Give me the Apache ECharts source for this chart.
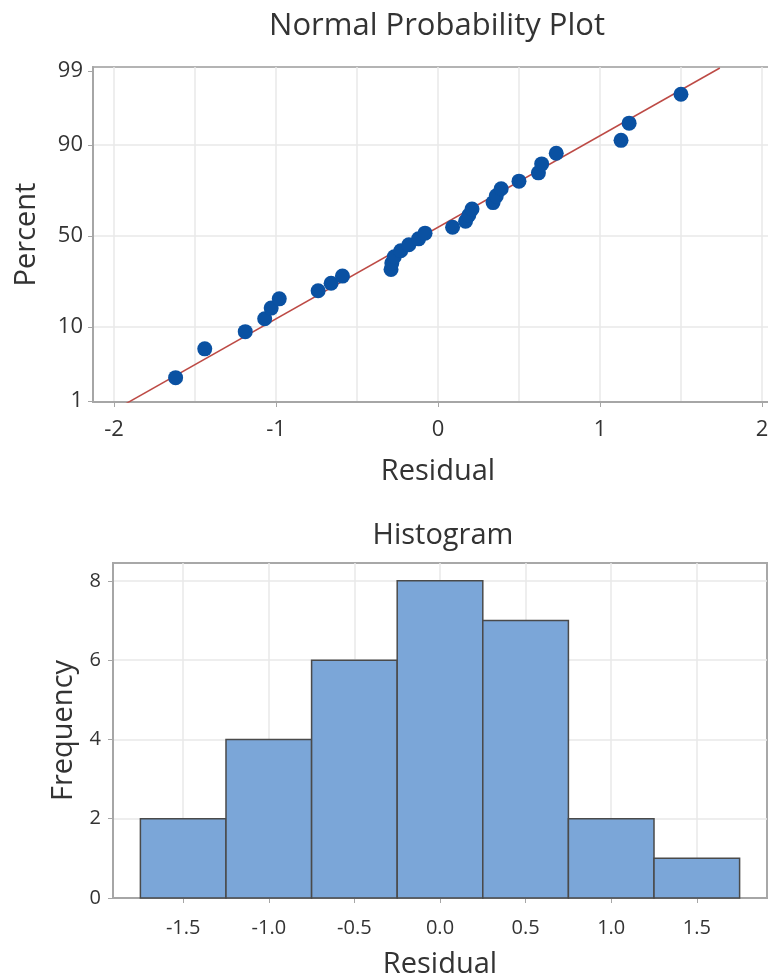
<!DOCTYPE html>
<html><head><meta charset="utf-8">
<script src="https://cdn.jsdelivr.net/npm/echarts@6/dist/echarts.min.js"></script>
<style>html,body{margin:0;padding:0;background:#fff}#c{width:768px;height:976px}</style>
</head><body><div id="c"></div>
<script>
// ---- data ----
const residuals = [-1.62,-1.44,-1.19,-1.07,-1.03,-0.98,-0.74,-0.66,-0.59,-0.29,-0.285,-0.27,-0.23,-0.18,-0.12,-0.08,0.09,0.17,0.19,0.21,0.34,0.36,0.39,0.50,0.62,0.64,0.73,1.13,1.18,1.50];
const percents = [2.3,5.6,8.9,12.2,15.5,18.8,22.0,25.3,28.6,31.9,35.2,38.5,41.8,45.1,48.4,51.6,54.9,58.2,61.5,64.8,68.1,71.4,74.7,78.0,81.3,84.5,87.8,91.1,94.4,97.7];
const fitLineResidual = [-1.93, 1.74];
const fitLinePercent = [0.9, 99.1];
const probYTicks = [1, 10, 50, 90, 99];
const probXTicks = [-2, -1, 0, 1, 2];
const probXGrid = [-2, -1.5, -1, -0.5, 0, 0.5, 1, 1.5, 2];
const binLower = [-1.75, -1.25, -0.75, -0.25, 0.25, 0.75, 1.25];
const binUpper = [-1.25, -0.75, -0.25, 0.25, 0.75, 1.25, 1.75];
const frequencies = [2, 4, 6, 8, 7, 2, 1];
const histXTicks = [-1.5, -1.0, -0.5, 0.0, 0.5, 1.0, 1.5];
const histYTicks = [0, 2, 4, 6, 8];

// inverse standard normal CDF (probability-scale transform)
function normInv(p){
  const a=[-3.969683028665376e+01,2.209460984245205e+02,-2.759285104469687e+02,1.383577518672690e+02,-3.066479806614716e+01,2.506628277459239e+00];
  const b=[-5.447609879822406e+01,1.615858368580409e+02,-1.556989798598866e+02,6.680131188771972e+01,-1.328068155288572e+01];
  const c=[-7.784894002430293e-03,-3.223964580411365e-01,-2.400758277161838e+00,-2.549671010060007e+00,4.374664141464968e+00,2.938163982698783e+00];
  const d=[7.784695709041462e-03,3.224671290700398e-01,2.445134137142996e+00,3.754408661907416e+00];
  const pl=0.02425, ph=1-pl; let q, r;
  if(p<pl){q=Math.sqrt(-2*Math.log(p));return (((((c[0]*q+c[1])*q+c[2])*q+c[3])*q+c[4])*q+c[5])/((((d[0]*q+d[1])*q+d[2])*q+d[3])*q+1);}
  if(p<=ph){q=p-0.5;r=q*q;return (((((a[0]*r+a[1])*r+a[2])*r+a[3])*r+a[4])*r+a[5])*q/(((((b[0]*r+b[1])*r+b[2])*r+b[3])*r+b[4])*r+1);}
  q=Math.sqrt(-2*Math.log(1-p));return -(((((c[0]*q+c[1])*q+c[2])*q+c[3])*q+c[4])*q+c[5])/((((d[0]*q+d[1])*q+d[2])*q+d[3])*q+1);
}
const zTicks = probYTicks.map(p => normInv(p/100));

const FONT = "'Open Sans', 'Noto Sans', sans-serif";
const TXT = '#333333';
const AXIS = '#a6a6a6';
const GRIDC = '#e8e8e8';

const chart = echarts.init(document.getElementById('c'), null, {renderer:'canvas'});
const nameStyle = {color: TXT, fontFamily: FONT, fontSize: 29};

chart.setOption({
  animation: false,
  backgroundColor: '#fff',
  title: [
    {text: 'Normal Probability Plot', left: 432, top: 6, textAlign: 'center',
     textStyle: {color: TXT, fontFamily: FONT, fontSize: 31, fontWeight: 'normal'}},
    {text: 'Histogram', left: 438, top: 516, textAlign: 'center',
     textStyle: {color: TXT, fontFamily: FONT, fontSize: 29, fontWeight: 'normal'}}
  ],
  grid: [
    {left: 93, top: 67, width: 690, height: 335, show: true, borderColor: '#b4b4b4', borderWidth: 2,
     backgroundColor: 'transparent', outerBoundsMode: 'none', containLabel: false},
    {left: 113, top: 563, width: 654, height: 335, show: true, borderColor: '#a8a8a8', borderWidth: 2,
     backgroundColor: 'transparent', outerBoundsMode: 'none', containLabel: false}
  ],
  xAxis: [
    {gridIndex: 0, type: 'value', min: -2.13, max: 2.13,
     name: 'Residual', nameLocation: 'middle', nameGap: 55, nameTextStyle: nameStyle,
     axisLine: {show: true, onZero: false, lineStyle: {color: AXIS, width: 2}},
     axisTick: {show: true, customValues: probXTicks, length: 5, lineStyle: {color: AXIS}},
     axisLabel: {customValues: probXTicks, margin: 17, color: TXT, fontFamily: FONT, fontSize: 22,
       formatter: v => String(Math.round(v))},
     splitLine: {show: false}},
    {gridIndex: 1, type: 'value', min: -1.91, max: 1.91,
     name: 'Residual', nameLocation: 'middle', nameGap: 52, nameTextStyle: nameStyle,
     axisLine: {show: true, onZero: false, lineStyle: {color: AXIS, width: 2}},
     axisTick: {show: true, customValues: histXTicks, length: 5, lineStyle: {color: AXIS}},
     axisLabel: {customValues: histXTicks, margin: 20, color: TXT, fontFamily: FONT, fontSize: 20,
       formatter: v => v.toFixed(1)},
     splitLine: {show: false}}
  ],
  yAxis: [
    {gridIndex: 0, type: 'value', min: -2.338, max: 2.38,
     name: 'Percent', nameLocation: 'middle', nameGap: 52, nameTextStyle: nameStyle,
     axisLine: {show: true, onZero: false, lineStyle: {color: AXIS, width: 2}},
     axisTick: {show: true, customValues: zTicks, length: 5, lineStyle: {color: AXIS}},
     axisLabel: {customValues: zTicks, margin: 10, color: TXT, fontFamily: FONT, fontSize: 22,
       formatter: v => { let best = 0; zTicks.forEach((z,i)=>{ if (Math.abs(z-v) < Math.abs(zTicks[best]-v)) best = i; }); return String(probYTicks[best]); }},
     splitLine: {show: false}},
    {gridIndex: 1, type: 'value', min: 0, max: 8.45,
     name: 'Frequency', nameLocation: 'middle', nameGap: 35, nameTextStyle: nameStyle,
     axisLine: {show: true, onZero: false, lineStyle: {color: AXIS, width: 2}},
     axisTick: {show: true, customValues: histYTicks, length: 5, lineStyle: {color: AXIS}},
     axisLabel: {customValues: histYTicks, margin: 12, color: TXT, fontFamily: FONT, fontSize: 20,
       formatter: v => String(Math.round(v))},
     splitLine: {show: false}}
  ],
  series: [
    {type: 'line', xAxisIndex: 0, yAxisIndex: 0, data: [], z: 0, silent: true,
     markLine: {z: 0, silent: true, symbol: 'none', animation: false, label: {show: false},
       lineStyle: {color: GRIDC, width: 1.5, type: 'solid'},
       data: [...probXGrid.map(v => ({xAxis: v})), ...zTicks.slice(1, 4).map(z => ({yAxis: z}))]}},
    {type: 'line', xAxisIndex: 0, yAxisIndex: 0, z: 3, symbol: 'none', clip: true,
     lineStyle: {color: '#bd4a45', width: 1.5},
     data: fitLineResidual.map((x, i) => [x, normInv(fitLinePercent[i]/100)])},
    {type: 'scatter', xAxisIndex: 0, yAxisIndex: 0, z: 4, symbol: 'circle', symbolSize: 15,
     itemStyle: {color: '#0a51a2', opacity: 1},
     data: residuals.map((r, i) => [r, normInv(percents[i]/100)])},
    {type: 'line', xAxisIndex: 1, yAxisIndex: 1, data: [], z: 0, silent: true,
     markLine: {z: 0, silent: true, symbol: 'none', animation: false, label: {show: false},
       lineStyle: {color: GRIDC, width: 1.5, type: 'solid'},
       data: [...histXTicks.map(v => ({xAxis: v})), ...histYTicks.slice(1).map(v => ({yAxis: v}))]}},
    {type: 'custom', xAxisIndex: 1, yAxisIndex: 1, z: 5,
     data: binLower.map((lo, i) => [lo, binUpper[i], frequencies[i]]),
     encode: {x: [0, 1], y: 2},
     renderItem: (params, api) => {
       const p0 = api.coord([api.value(0), api.value(2)]);
       const p1 = api.coord([api.value(1), 0]);
       return {type: 'rect', shape: {x: p0[0], y: p0[1], width: p1[0]-p0[0], height: p1[1]-p0[1]},
               style: {fill: '#7ba6d8', stroke: '#4a4a4a', lineWidth: 1.5}};
     }}
  ]
});
</script></body></html>
